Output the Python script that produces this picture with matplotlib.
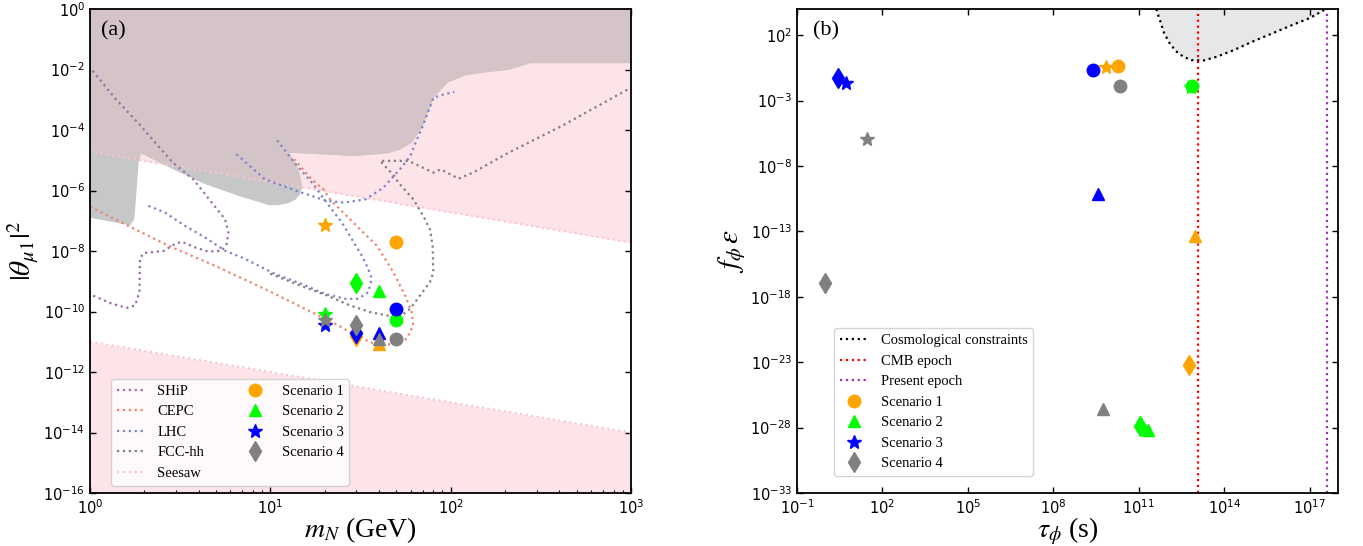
import numpy as np
import matplotlib
matplotlib.use('Agg')
import matplotlib.pyplot as plt
from matplotlib.lines import Line2D
from matplotlib.ticker import FixedLocator, LogLocator, NullLocator, NullFormatter, LogFormatterSciNotation

# ---------------- panel (a) data (log10 values) ----------------
ship_lm = [0.014, 0.143, 0.281, 0.459, 0.573, 0.675, 0.749, 0.767, 0.758, 0.730, 0.656, 0.582,
           0.508, 0.453, 0.416, 0.296, 0.277, 0.274, 0.25, 0.203, 0.12, 0.0]
ship_lt = [-2.04, -2.98, -3.86, -5.08, -5.63, -6.40, -6.95, -7.39, -7.77, -7.99, -8.02, -7.88,
           -7.69, -7.82, -7.99, -8.07, -8.26, -9.36, -9.80, -9.88, -9.74, -9.43]

cepc_lm = [0.0, 0.212, 0.434, 0.712, 0.989, 1.266, 1.377, 1.488, 1.599, 1.70, 1.756, 1.793,
           1.784, 1.747, 1.682, 1.590, 1.497, 1.423, 1.331, 1.294, 1.229, 1.133]
cepc_lt = [-6.53, -7.17, -7.82, -8.54, -9.31, -10.13, -10.46, -10.84, -11.12, -11.06, -10.90, -10.46,
           -10.02, -9.47, -8.70, -7.82, -7.28, -6.84, -6.29, -5.96, -5.63, -4.97]

lhc1_lm = [0.324, 0.416, 0.527, 0.638, 0.749, 0.86, 1.026, 1.174, 1.303, 1.414, 1.488, 1.543,
           1.562, 1.543, 1.507, 1.451, 1.396, 1.34, 1.285, 1.24, 1.133, 1.03]
lhc1_lt = [-6.51, -6.73, -7.17, -7.55, -7.99, -8.26, -8.76, -9.09, -9.42, -9.58, -9.58, -9.36,
           -8.92, -8.59, -8.15, -7.60, -7.05, -6.62, -6.18, -5.80, -5.08, -4.28]

lhc2_lm = [0.812, 0.97, 1.174, 1.311, 1.41, 1.529, 1.628, 1.727, 1.776, 1.806, 1.846, 1.905, 1.964, 2.02]
lhc2_lt = [-4.80, -5.63, -6.07, -6.34, -6.40, -6.29, -5.90, -5.24, -4.86, -4.41, -3.86, -2.93, -2.82, -2.74]

fcc_lm = [1.0, 1.165, 1.313, 1.442, 1.553, 1.664, 1.728, 1.775, 1.83, 1.885, 1.904, 1.90, 1.885,
          1.848, 1.793, 1.71, 1.687, 1.608, 1.766, 1.905, 1.945, 2.044, 2.123, 2.321, 2.618, 3.0]
fcc_lt = [-8.75, -9.14, -9.47, -9.80, -10.02, -10.15, -10.13, -9.91, -9.47, -9.03, -8.70, -7.82, -7.28,
          -6.84, -6.29, -5.74, -5.52, -5.02, -5.02, -5.41, -5.30, -5.61, -5.41, -4.75, -3.86, -2.60]

excl_lm = [0.0, 0.0, 0.222, 0.246, 0.258, 0.271, 0.285, 0.44, 0.638, 0.836, 0.994, 1.05, 1.10, 1.14,
           1.165, 1.176, 1.165, 1.14, 1.103, 1.469, 1.648, 1.72, 1.786, 1.846, 1.905, 1.984, 2.083,
           2.182, 2.321, 2.44, 3.0, 3.0]
excl_lt = [0.0, -6.90, -7.15, -6.95, -6.0, -4.97, -4.77, -5.24, -5.79, -6.20, -6.49, -6.48, -6.42, -6.30,
           -6.12, -5.90, -5.50, -5.10, -4.75, -4.86, -4.77, -4.65, -4.41, -3.86, -2.93, -2.43, -2.19,
           -2.10, -2.01, -1.79, -1.79, 0.0]

seesaw_lm = [0.0, 3.0]
seesaw_up_lt = [-4.72, -7.72]
seesaw_lo_lt = [-11.0, -14.0]

mass_pts = [20, 30, 40, 50]
markers_by_mass = ['*', 'd', '^', 'o']
scen_colors = ['orange', 'lime', 'blue', 'gray']
scen_labels = ['Scenario 1', 'Scenario 2', 'Scenario 3', 'Scenario 4']
scen_markers = ['o', '^', '*', 'd']
theta_lt = [[-7.14, -10.81, -11.06, -7.69],
            [-10.07, -9.05, -9.33, -10.29],
            [-10.43, -10.70, -10.70, -9.93],
            [-10.29, -10.43, -10.92, -10.90]]

# ---------------- panel (b) data ----------------
tau_lt = [[9.86, 12.76, 12.99, 10.27],
          [12.85, 11.04, 11.31, 12.87],
          [0.71, 0.44, 9.56, 9.40],
          [1.45, -0.02, 9.76, 10.34]]
feps_lt = [[-0.44, -23.18, -13.38, -0.36],
           [-1.95, -27.90, -28.15, -1.92],
           [-1.69, -1.25, -10.15, -0.67],
           [-5.96, -16.93, -26.57, -1.92]]
cosmo_lt_tau = [11.62, 11.66, 11.78, 11.89, 12.08, 12.31, 12.57, 12.86, 13.27, 13.74, 14.33,
                15.03, 15.73, 16.43, 17.02, 17.43, 17.55]
cosmo_lt_f = [4.0, 3.69, 2.93, 2.17, 1.41, 0.77, 0.35, 0.09, 0.06, 0.35, 0.85,
              1.54, 2.17, 2.81, 3.32, 3.82, 4.0]
tau_cmb = 10 ** 13.07
tau_now = 10 ** 17.63

def p10(a):
    return 10.0 ** np.asarray(a, dtype=float)

serif = 'Liberation Serif'
fig = plt.figure(figsize=(13.63, 5.46), dpi=100)
axA = fig.add_axes([90 / 1363, 53 / 546, 541 / 1363, 484 / 546])
axB = fig.add_axes([797 / 1363, 53 / 546, 541 / 1363, 484 / 546])

# ---------------- panel (a) ----------------
ax = axA
ax.set_xscale('log'); ax.set_yscale('log')
ax.set_xlim(1, 1000); ax.set_ylim(1e-16, 1)

sm = p10(seesaw_lm)
pink = '#fde4e8'
up = ax.fill_between(sm, p10(seesaw_up_lt), 1.0, color=pink, lw=0, zorder=1)
ax.fill_between(sm, 1e-16, p10(seesaw_lo_lt), color=pink, lw=0, zorder=1)
ax.fill(p10(excl_lm), p10(excl_lt), color='#c5c7c9', lw=0, zorder=1.5)
brown = ax.fill(p10(excl_lm), p10(excl_lt), color='#d4c4c8', lw=0, zorder=1.6)[0]
brown.set_clip_path(up.get_paths()[0], up.get_transform())

ax.plot(sm, p10(seesaw_up_lt), ':', color='#f7c6cf', lw=1.5, zorder=2, label='Seesaw')
ax.plot(sm, p10(seesaw_lo_lt), ':', color='#f7c6cf', lw=1.5, zorder=2)
ax.plot(p10(ship_lm), p10(ship_lt), ':', color='#9a6ea6', lw=1.6, zorder=3, label='SHiP')
ax.plot(p10(cepc_lm), p10(cepc_lt), ':', color='#f0836a', lw=1.6, zorder=3, label='CEPC')
ax.plot(p10(lhc1_lm), p10(lhc1_lt), ':', color='#7d85c6', lw=1.6, zorder=3, label='LHC')
ax.plot(p10(lhc2_lm), p10(lhc2_lt), ':', color='#7d85c6', lw=1.6, zorder=3)
ax.plot(p10(fcc_lm), p10(fcc_lt), ':', color='#808080', lw=1.6, zorder=3, label='FCC-hh')

msz = {'*': 10, 'd': 10, '^': 9, 'o': 9}
for s in range(4):
    for j in range(4):
        mk = markers_by_mass[j]
        ax.plot(mass_pts[j], 10 ** theta_lt[s][j], mk, color=scen_colors[s], ms=msz[mk],
                mec=scen_colors[s], zorder=4 + s)

lines_h = [Line2D([], [], ls=':', lw=1.6, color=c) for c in ['#9a6ea6', '#f0836a', '#7d85c6', '#808080', '#f7c6cf']]
lines_l = ['SHiP', 'CEPC', 'LHC', 'FCC-hh', 'Seesaw']
sc_h = [Line2D([], [], ls='none', marker=m, color=c, ms=msz[m]) for m, c in zip(scen_markers, scen_colors)]
ax.legend(lines_h + sc_h, lines_l + scen_labels, ncol=2, loc='lower left',
          bbox_to_anchor=(0.025, 0.0), prop={'family': serif, 'size': 10.5}, columnspacing=2.5)

ax.xaxis.set_major_locator(LogLocator(base=10, numticks=10))
ax.xaxis.set_minor_locator(LogLocator(base=10, subs=np.arange(2, 10), numticks=20))
ax.xaxis.set_minor_formatter(NullFormatter())
ax.yaxis.set_major_locator(FixedLocator(p10(np.arange(0, -17, -2))))
ax.yaxis.set_major_formatter(LogFormatterSciNotation())
ax.yaxis.set_minor_locator(NullLocator())
ax.text(0.02, 0.975, '(a)', transform=ax.transAxes, va='top', ha='left', fontsize=16, family=serif)
ax.set_xlabel(r'$m_N$ (GeV)', fontsize=20, family=serif, math_fontfamily='stix', labelpad=-1)
ax.set_ylabel(r'$|\theta_{\mu 1}|^2$', fontsize=21, family=serif, math_fontfamily='stix', labelpad=2)

# ---------------- panel (b) ----------------
ax = axB
ax.set_xscale('log'); ax.set_yscale('log')
ax.set_xlim(1e-1, 1e18); ax.set_ylim(1e-33, 1e4)
ct = p10(cosmo_lt_tau); cf = p10(cosmo_lt_f)
ax.fill_between(ct, cf, 1e4, color='#e6e7e9', lw=0, zorder=1)
ax.plot(ct, cf, ':', color='black', lw=1.6, zorder=3)
ax.axvline(tau_cmb, ls=':', color='red', lw=1.6, zorder=3)
ax.axvline(tau_now, ls=':', color='#9b35ad', lw=1.6, zorder=3)
for s in range(4):
    for j in range(4):
        mk = markers_by_mass[j]
        ax.plot(10 ** tau_lt[s][j], 10 ** feps_lt[s][j], mk, color=scen_colors[s], ms=msz[mk],
                mec=scen_colors[s], zorder=4 + s)
hb = [Line2D([], [], ls=':', lw=1.6, color=c) for c in ['black', 'red', '#9b35ad']] + sc_h
lb = ['Cosmological constraints', 'CMB epoch', 'Present epoch'] + scen_labels
ax.legend(hb, lb, loc='lower left', bbox_to_anchor=(0.055, 0.02), prop={'family': serif, 'size': 10.5})
ax.xaxis.set_major_locator(FixedLocator(p10(np.arange(-1, 18, 3))))
ax.xaxis.set_major_formatter(LogFormatterSciNotation())
ax.xaxis.set_minor_locator(NullLocator())
ax.yaxis.set_major_locator(FixedLocator(p10(np.arange(2, -34, -5))))
ax.yaxis.set_major_formatter(LogFormatterSciNotation())
ax.yaxis.set_minor_locator(NullLocator())
ax.text(0.03, 0.975, '(b)', transform=ax.transAxes, va='top', ha='left', fontsize=16, family=serif)
ax.set_xlabel(r'$\tau_\phi$ (s)', fontsize=20, family=serif, math_fontfamily='stix', labelpad=-1)
ax.set_ylabel(r'$f_\phi\, \varepsilon$', fontsize=21, family=serif, math_fontfamily='stix', labelpad=2)

for ax in (axA, axB):
    ax.tick_params(which='both', direction='in', top=True, right=True, labelsize=10.5)
    ax.tick_params(which='major', length=4.5, width=1)
    ax.tick_params(which='minor', length=2.5, width=0.8)
    for sp in ax.spines.values():
        sp.set_linewidth(1.3)
        sp.set_zorder(10)

fig.savefig('out.png', dpi=100)
